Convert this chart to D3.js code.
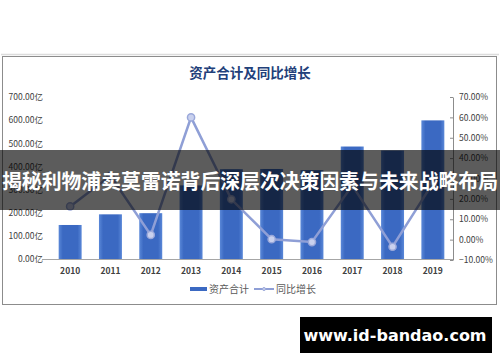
<!DOCTYPE html>
<html><head><meta charset="utf-8">
<script src="https://cdn.jsdelivr.net/npm/d3@7"></script>
<style>html,body{margin:0;padding:0;background:#fff;overflow:hidden}</style>
</head><body>
<svg id="c" width="500" height="362"></svg>
<script>
const years = ["2010","2011","2012","2013","2014","2015","2016","2017","2018","2019"];
const assets = [147, 193, 198, 318, 388, 389, 384, 486, 469, 599];
const growth = [16.3, 31.3, 2.3, 60.0, 19.8, 0.2, -1.2, 26.5, -3.5, 27.7];
const leftTicks = [0,100,200,300,400,500,600,700];
const rightTicks = [-10,0,10,20,30,40,50,60,70];
const title = "资产合计及同比增长";
const legendLabels = ["资产合计","同比增长"];
const bannerText = "揭秘利物浦卖莫雷诺背后深层次决策因素与未来战略布局";
const watermark = "www.id-bandao.com";

const svg = d3.select("#c");
const FONT = "'Noto Sans CJK SC','Noto Sans',sans-serif";
const defs = svg.append("defs");
const g1 = defs.append("linearGradient").attr("id","bg").attr("x1","0").attr("x2","1").attr("y1","0").attr("y2","0");
g1.append("stop").attr("offset","0").attr("stop-color","#5a88d8");
g1.append("stop").attr("offset","0.18").attr("stop-color","#3b69c2");
g1.append("stop").attr("offset","0.82").attr("stop-color","#3b69c2");
g1.append("stop").attr("offset","1").attr("stop-color","#5a88d8");

// frame
svg.append("line").attr("x1",1).attr("x2",499).attr("y1",54.5).attr("y2",54.5).attr("stroke","#dcdcdc").attr("stroke-width",1.5);
svg.append("rect").attr("x",2.5).attr("y",56.5).attr("width",494).attr("height",248).attr("fill","#fff").attr("stroke","#8c8c8c");

const x = d3.scaleBand().domain(years).range([50,453]).paddingInner(0.43).paddingOuter(0.215);
const yL = d3.scaleLinear().domain([0,700]).range([259,97]);
const yR = d3.scaleLinear().domain([-10,70]).range([260,97]);

svg.append("text").attr("x",250).attr("y",78).attr("text-anchor","middle")
  .attr("font-family",FONT).attr("font-weight","bold").attr("font-size",13.5).attr("fill","#22407a").text(title);

// left axis labels
const la = svg.append("g").attr("transform","translate(44,0)")
  .call(d3.axisLeft(yL).tickValues(leftTicks).tickSize(0).tickPadding(1).tickFormat(d=>d3.format(".2f")(d)+"亿"));
la.select(".domain").remove();
la.selectAll("text").attr("font-family",FONT).attr("font-size",8.5).attr("fill","#404040");

// right axis
const ra = svg.append("g").attr("transform","translate(453,0)")
  .call(d3.axisRight(yR).tickValues(rightTicks).tickSizeInner(-3).tickSizeOuter(0).tickPadding(6).tickFormat(d=>d3.format(".2f")(d)+"%"));
ra.select(".domain").attr("stroke","#8c8c8c");
ra.selectAll(".tick line").attr("stroke","#8c8c8c");
ra.selectAll("text").attr("font-family",FONT).attr("font-size",8.5).attr("fill","#404040");

// bars
svg.append("g").selectAll("rect").data(years).join("rect")
  .attr("x",d=>x(d)).attr("width",x.bandwidth())
  .attr("y",(d,i)=>yL(assets[i])).attr("height",(d,i)=>yL(0)-yL(assets[i]))
  .attr("fill","url(#bg)");

// x axis
const xa = svg.append("g").attr("transform","translate(0,259)")
  .call(d3.axisBottom(x).tickSize(0).tickPadding(9));
xa.select(".domain").attr("d","M42,0.5H453").attr("stroke","#a6a6a6");
xa.selectAll("text").attr("font-family",FONT).attr("font-size",8.5).attr("font-weight","bold").attr("fill","#404040");

// line
const pts = years.map((d,i)=>[x(d)+x.bandwidth()/2, yR(growth[i])]);
svg.append("path").attr("d",d3.line()(pts)).attr("fill","none").attr("stroke","#8f9fd6").attr("stroke-width",2.5);
svg.append("g").selectAll("circle").data(pts).join("circle")
  .attr("cx",d=>d[0]).attr("cy",d=>d[1]).attr("r",3.6)
  .attr("fill","#c9d1ee").attr("stroke","#9aa8da").attr("stroke-width",1.5);

// legend
const lg = svg.append("g");
lg.append("rect").attr("x",190).attr("y",287).attr("width",17).attr("height",4).attr("fill","#3b69c2");
lg.append("text").attr("x",209).attr("y",293).attr("font-family",FONT).attr("font-size",10).attr("fill","#595959").text(legendLabels[0]);
lg.append("line").attr("x1",254).attr("x2",274).attr("y1",289).attr("y2",289).attr("stroke","#8f9fd6").attr("stroke-width",2);
lg.append("circle").attr("cx",264).attr("cy",289).attr("r",1.5).attr("fill","#c9d1ee").attr("stroke","#9aa8da");
lg.append("text").attr("x",276).attr("y",293).attr("font-family",FONT).attr("font-size",10).attr("fill","#595959").text(legendLabels[1]);

// banner
svg.append("rect").attr("x",0).attr("y",150).attr("width",500).attr("height",60).attr("fill","rgba(0,0,0,0.64)");
svg.append("text").attr("x",250).attr("y",189).attr("text-anchor","middle").attr("textLength",496).attr("lengthAdjust","spacingAndGlyphs")
  .attr("font-family",FONT).attr("font-weight","bold").attr("font-size",20.5).attr("fill","#fff").text(bannerText);

// watermark
svg.append("rect").attr("x",300).attr("y",317).attr("width",192).attr("height",36).attr("fill","#000");
svg.append("text").attr("x",395).attr("y",341).attr("text-anchor","middle")
  .attr("font-family","'DejaVu Sans','Noto Sans',sans-serif").attr("font-weight","bold").attr("font-size",16).attr("fill","#fff").text(watermark);
</script>
</body></html>
